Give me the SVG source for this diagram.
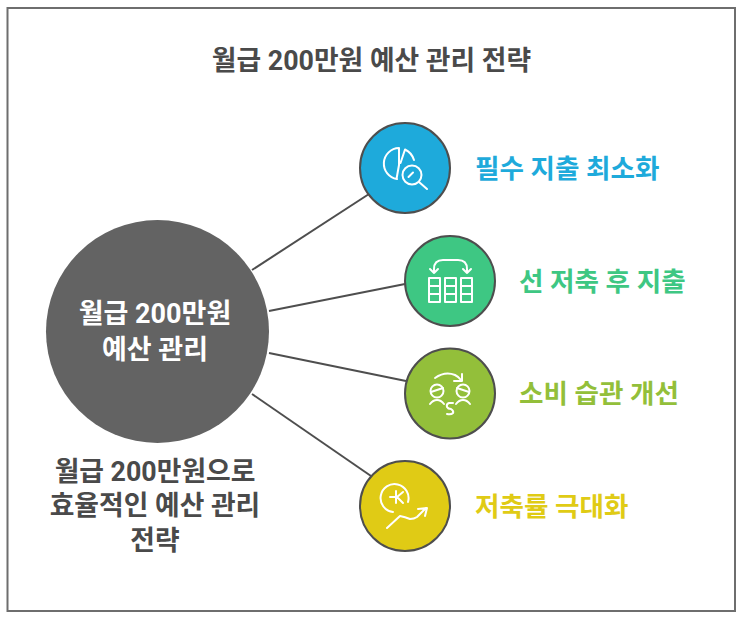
<svg xmlns="http://www.w3.org/2000/svg" width="743" height="619" viewBox="0 0 743 619">
<style>
text{font-family:"Roboto","Noto Sans CJK KR",sans-serif;font-weight:700;text-anchor:middle}
.d{fill:#4a4a4a;font-size:26.800px}
.w{fill:#fff;font-size:27px}
.l{font-size:26.600px;text-anchor:start}
.c{stroke:#4e4e4e;stroke-width:2}
.i{fill:none;stroke:#fff;stroke-width:2;stroke-linecap:round;stroke-linejoin:round}
.n{stroke:#4e4e4e;stroke-width:2}
</style>
<rect width="743" height="619" fill="#fff"/>
<rect x="7.500" y="8" width="727.500" height="603" fill="#fff" stroke="#6e6e6e" stroke-width="2"/>
<text class="d" x="371.500" y="70">월급 200만원 예산 관리 전략</text>
<g id="connectors">
<line class="c" x1="252" y1="270" x2="369" y2="194"/>
<line class="c" x1="269" y1="311" x2="405" y2="284"/>
<line class="c" x1="269" y1="353" x2="406" y2="381"/>
<line class="c" x1="252" y1="394" x2="371" y2="476"/>
</g>
<g id="center">
<circle cx="157.500" cy="331.500" r="111.500" fill="#636363"/>
<text class="w" x="155" y="323">월급 200만원</text>
<text class="w" x="155" y="359">예산 관리</text>
</g>
<g id="caption">
<text class="d" x="155" y="481">월급 200만원으로</text>
<text class="d" x="155" y="515">효율적인 예산 관리</text>
<text class="d" x="155" y="550">전략</text>
</g>
<g id="node1">
<circle class="n" cx="405" cy="168" r="45" fill="#1eaadb"/>
<g class="i">
<path d="M397 179A15.600 15.600 0 0 1 399 148V165L396.500 179"/>
<path d="M405 149.500L400.500 163M405 149.500A17 17 0 0 1 414 160"/>
<circle cx="412" cy="175" r="9.500"/>
<path d="M408.500 177L413 172.500M419 182L427 189"/>
</g>
<text class="l" x="475" y="178" fill="#1eaadb">필수 지출 최소화</text>
</g>
<g id="node2">
<circle class="n" cx="450" cy="281" r="45" fill="#3ec783"/>
<g class="i">
<path d="M434 273V269Q434 260 443 260H458Q467 260 467 269V273M430 269L434 273L438 269M463 269L467 273L471 269"/>
<path d="M429 278h11v24h-11zM445 278h11v24h-11zM461 278h11v24h-11zM429 286h11M429 294h11M445 286h11M445 294h11M461 286h11M461 294h11"/>
</g>
<text class="l" x="519" y="291" fill="#3ec783">선 저축 후 지출</text>
</g>
<g id="node3">
<circle class="n" cx="450" cy="393.500" r="45" fill="#93bf3a"/>
<g class="i">
<path d="M435 378Q445 371 455 375Q459 377 461 380M454 381H462V374"/>
<circle cx="437" cy="391" r="6.500"/><circle cx="463" cy="391" r="6.500"/>
<path d="M431 392L443 388M457 388L469 392M430 404Q433 400 437 400Q441 400 444 404M456 404Q459 400 463 400Q467 400 470 404"/>
<path d="M453 403H449Q446 404 447 407Q448 409 451 409Q454 411 453 413Q451 415 447 414"/>
</g>
<text class="l" x="519" y="403" fill="#93bf3a">소비 습관 개선</text>
</g>
<g id="node4">
<circle class="n" cx="405" cy="506" r="45" fill="#e0cb15"/>
<g class="i">
<path d="M393 512A14 14 0 1 1 408 502"/>
<path d="M396 491V503M390 497H396M403 492L397 497L403 503"/>
<path d="M387 528L400 516Q405 517 410 519Q414 519 417 517L426 508M418 509L427 508L425 516"/>
</g>
<text class="l" x="475" y="516" fill="#e0cb15">저축률 극대화</text>
</g>
</svg>
